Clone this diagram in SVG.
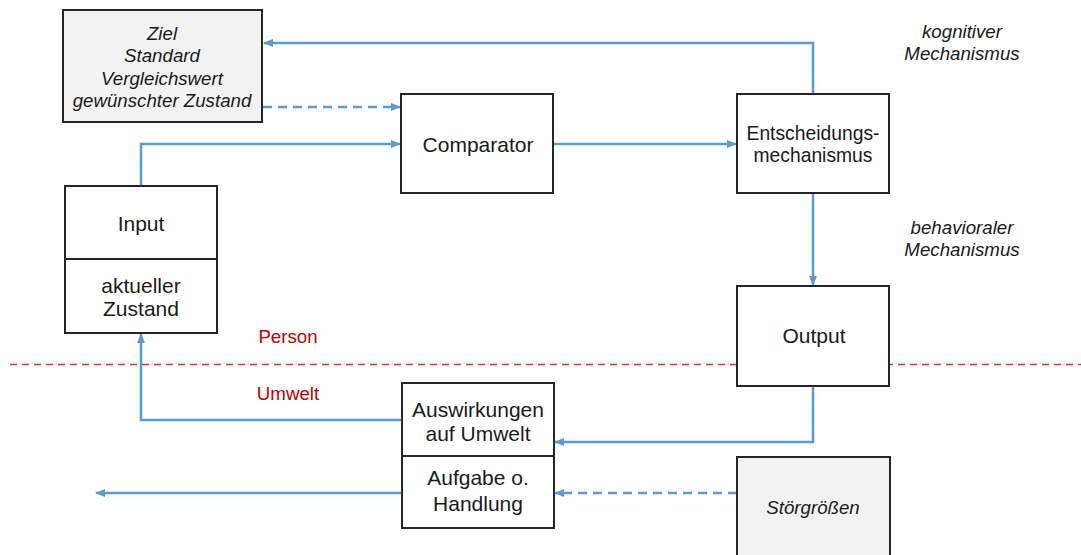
<svg xmlns="http://www.w3.org/2000/svg" width="1081" height="555" viewBox="0 0 1081 555">
<style>
.box{fill:#ffffff;stroke:#262626;stroke-width:2}
.grey{fill:#f2f2f2}
.t{font-family:"Liberation Sans",Arial,sans-serif;font-size:18.7px;fill:#1a1a1a;text-anchor:middle}
.b{font-size:21px}
.i{font-style:italic}
.red{fill:#c00000}
.c{fill:none;stroke:#5b9bd5;stroke-width:2.5}
.d{stroke-dasharray:9 6}
</style>
<defs>
<marker id="ah" markerUnits="userSpaceOnUse" markerWidth="10" markerHeight="10" viewBox="0 0 10 10" refX="9" refY="5" orient="auto">
<path d="M0,1 L10,5 L0,9 Z" fill="#5b9bd5"/>
</marker>
</defs>
<line x1="10" y1="364.5" x2="1081" y2="364.5" stroke="#e03030" stroke-width="1.6" stroke-dasharray="7 5"/>
<text class="t red" x="288" y="343">Person</text>
<text class="t red" x="288" y="400">Umwelt</text>
<text class="t i" x="962" y="38">kognitiver</text>
<text class="t i" x="962" y="60">Mechanismus</text>
<text class="t i" x="962" y="234">behavioraler</text>
<text class="t i" x="962" y="256">Mechanismus</text>
<g id="connectors">
<path class="c" d="M813,94 V43 H264" marker-end="url(#ah)"/>
<path class="c d" d="M263,107 H400" marker-end="url(#ah)"/>
<path class="c" d="M141,186 V144 H400" marker-end="url(#ah)"/>
<path class="c" d="M553,144 H736" marker-end="url(#ah)"/>
<path class="c" d="M813,193 V285" marker-end="url(#ah)"/>
<path class="c" d="M813,386 V442 H555" marker-end="url(#ah)"/>
<path class="c" d="M402,420 H141 V334" marker-end="url(#ah)"/>
<path class="c" d="M402,493 H96" marker-end="url(#ah)"/>
<path class="c d" d="M737,493 H555" marker-end="url(#ah)"/>
</g>
<g id="ziel">
<rect class="box grey" x="63" y="10" width="199" height="112"/>
<text class="t i" x="162" y="39.5">Ziel</text>
<text class="t i" x="162" y="62">Standard</text>
<text class="t i" x="162" y="84.5">Vergleichswert</text>
<text class="t i" x="162" y="107">gewünschter Zustand</text>
</g>
<g id="comparator">
<rect class="box" x="401" y="94" width="152" height="99"/>
<text class="t b" x="478" y="151.5">Comparator</text>
</g>
<g id="entscheidung">
<rect class="box" x="737" y="94" width="152" height="99"/>
<text class="t" style="font-size:19.3px" x="813" y="140">Entscheidungs-</text>
<text class="t" style="font-size:19.3px" x="813" y="162">mechanismus</text>
</g>
<g id="input">
<rect class="box" x="65" y="186" width="152" height="147"/>
<line x1="65" y1="259" x2="217" y2="259" stroke="#262626" stroke-width="2"/>
<text class="t b" x="141" y="230.5">Input</text>
<text class="t b" x="141" y="292.5">aktueller</text>
<text class="t b" x="141" y="315.5">Zustand</text>
</g>
<g id="output">
<rect class="box" x="737" y="286" width="152" height="100"/>
<text class="t b" x="814" y="342.5">Output</text>
</g>
<g id="umwelt">
<rect class="box" x="402" y="383" width="152" height="145"/>
<line x1="402" y1="456" x2="554" y2="456" stroke="#262626" stroke-width="2"/>
<text class="t b" x="478" y="416.5">Auswirkungen</text>
<text class="t b" x="478" y="441">auf Umwelt</text>
<text class="t b" x="478" y="484.5">Aufgabe o.</text>
<text class="t b" x="478" y="511">Handlung</text>
</g>
<g id="stoer">
<rect class="box grey" x="737" y="457" width="153" height="110"/>
<text class="t i" x="813" y="514">Störgrößen</text>
</g>
</svg>
